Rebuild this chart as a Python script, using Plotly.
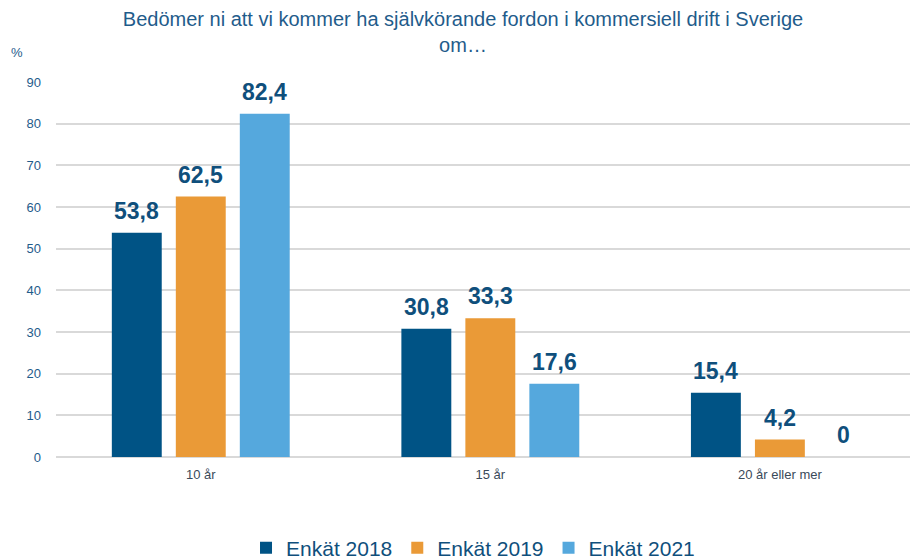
import plotly.graph_objects as go

categories = ["10 år", "15 år", "20 år eller mer"]
series_names = ["Enkät 2018", "Enkät 2019", "Enkät 2021"]
v2018 = [53.8, 30.8, 15.4]
v2019 = [62.5, 33.3, 4.2]
v2021 = [82.4, 17.6, 0]
y_ticks = [0, 10, 20, 30, 40, 50, 60, 70, 80, 90]

colors = ["#005385", "#EA9A37", "#55A8DD"]
label_color = "#0F4F7C"
text_color = "#1F5C8B"

fig = go.Figure()
all_vals = [v2018, v2019, v2021]
for name, vals, col in zip(series_names, all_vals, colors):
    fig.add_trace(go.Bar(x=categories, y=vals, name=name, marker_color=col,
                         marker_line_width=0))

# data labels
offsets = [-64, 0, 64]
for vals, off in zip(all_vals, offsets):
    for c, v in zip(categories, vals):
        fig.add_annotation(x=c, y=v, xshift=off, yshift=22,
                           text=f"<b>{v:g}</b>".replace(".", ","),
                           showarrow=False, yanchor="middle",
                           font=dict(family="Liberation Sans", size=23, color=label_color))

# % label
fig.add_annotation(x=0, y=1, xref="paper", yref="paper", xanchor="center", yanchor="middle",
                   xshift=-39, yshift=30, text="%", showarrow=False,
                   font=dict(family="Liberation Sans", size=13, color=text_color))

fig.update_layout(
    width=910, height=551,
    margin=dict(l=48, r=0, t=74, b=102),
    paper_bgcolor="white", plot_bgcolor="white",
    barmode="group", bargap=0.337, bargroupgap=0.22,
    title=dict(text="Bedömer ni att vi kommer ha självkörande fordon i kommersiell drift i Sverige<br>om…",
               x=0.5, xanchor="center", y=0.968, yanchor="top",
               font=dict(family="Liberation Sans", size=20, color=text_color)),
    font=dict(family="Liberation Sans", color=text_color),
    showlegend=True,
    legend=dict(orientation="h", x=0.511, xanchor="center", xref="container",
                y=0.02, yanchor="middle", yref="container",
                font=dict(family="Liberation Sans", size=21, color=label_color),
                itemwidth=30, traceorder="normal"),
)
fig.update_xaxes(range=[-0.5, 2.477], showgrid=False, showline=False, ticks="",
                 ticklabelstandoff=8,
                 tickfont=dict(size=13, color="#3a4a5a"))
fig.update_yaxes(range=[0, 90], tickvals=y_ticks, showgrid=True, gridcolor="#D9D9D9",
                 gridwidth=1.5, zeroline=True, zerolinecolor="#D9D9D9", zerolinewidth=1.5,
                 ticks="", ticklabelstandoff=14,
                 tickfont=dict(size=13, color=text_color))

fig.write_html("out.html")
